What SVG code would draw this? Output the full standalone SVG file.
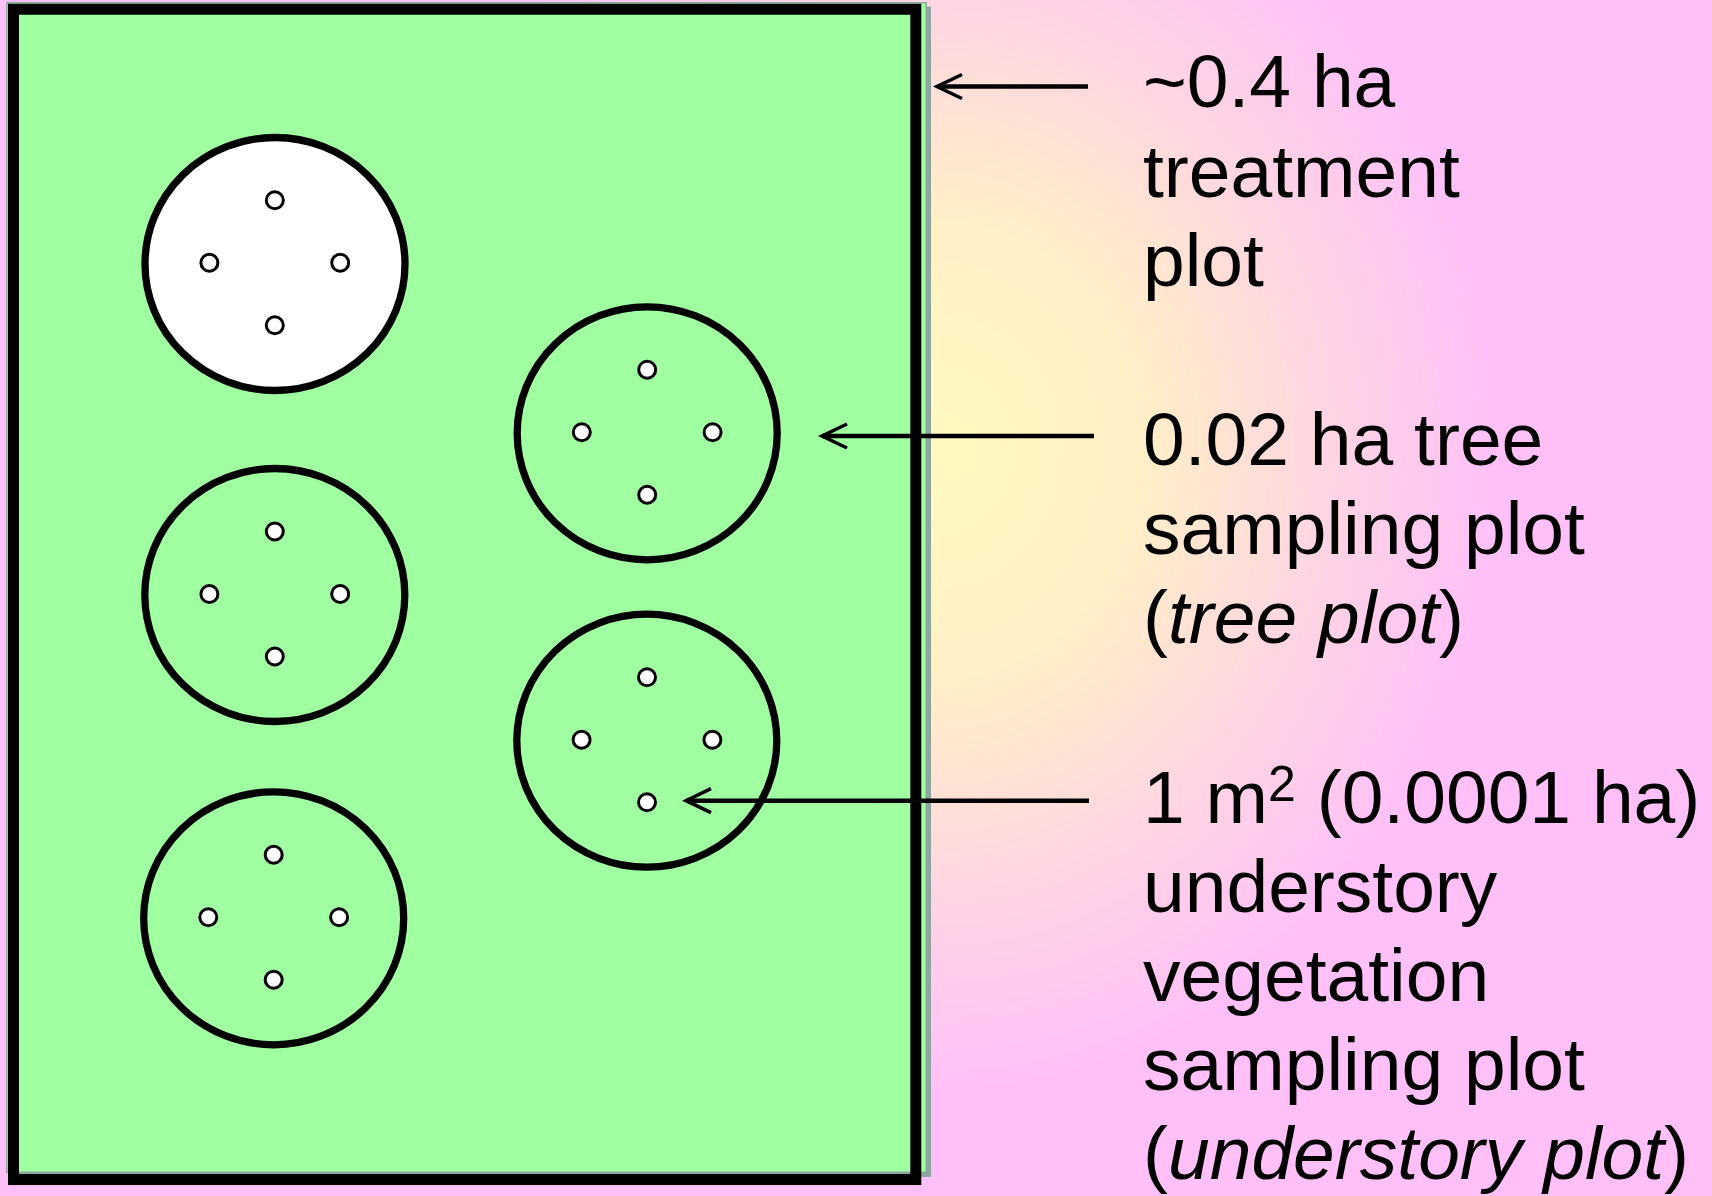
<svg xmlns="http://www.w3.org/2000/svg" width="1712" height="1196" viewBox="0 0 1712 1196">
  <style>
    .label { font-family: "Liberation Sans", Arial, sans-serif; font-size: 75px; fill: #000; }
    .it { font-style: italic; }
    .plot { stroke: #000; stroke-width: 7.3; }
    .quad { fill: #fff; stroke: #000; stroke-width: 3; }
    .conn { stroke: #000; stroke-width: 4.5; fill: none; marker-end: url(#arrow); }
  </style>
  <defs>
    <radialGradient id="bg" gradientUnits="userSpaceOnUse" cx="940" cy="450" r="560" gradientTransform="translate(940 450) scale(1 1.15) translate(-940 -450)">
      <stop offset="0" stop-color="#FFF9C0"/>
      <stop offset="0.35" stop-color="#FFF0C6"/>
      <stop offset="0.7" stop-color="#FFD4E4"/>
      <stop offset="1" stop-color="#FFC0F8"/>
    </radialGradient>
    <marker id="arrow" markerUnits="userSpaceOnUse" viewBox="-30 -15 32 30" refX="0" refY="0" markerWidth="32" markerHeight="30" orient="auto" overflow="visible">
      <path d="M -25 -12 L 0 0 L -25 12" fill="none" stroke="#000" stroke-width="3.5" stroke-linejoin="miter" stroke-miterlimit="10"/>
    </marker>
    <g id="quads">
      <circle class="quad" cx="0" cy="-62.5" r="8.5"/>
      <circle class="quad" cx="-65.4" cy="0" r="8.5"/>
      <circle class="quad" cx="65.4" cy="0" r="8.5"/>
      <circle class="quad" cx="0" cy="62.5" r="8.5"/>
    </g>
  </defs>

  <rect x="0" y="0" width="1712" height="1196" fill="url(#bg)"/>

  <g id="treatment-plot">
    <rect x="10.5" y="6.5" width="920.5" height="1170.5" fill="#8DA6A0"/>
    <rect x="6.75" y="2.75" width="919.5" height="1169.5" fill="#A0FFA0" stroke="#8DA6A0" stroke-width="1.5"/>
    <rect x="13.5" y="9.25" width="902.3" height="1170.3" fill="none" stroke="#000" stroke-width="11"/>
  </g>

  <g id="tree-plot-1">
    <ellipse class="plot" cx="275" cy="264" rx="130" ry="126.5" fill="#fff"/>
    <use href="#quads" x="274.8" y="262.8"/>
  </g>
  <g id="tree-plot-2">
    <ellipse class="plot" cx="647.2" cy="433.3" rx="130" ry="126.5" fill="none"/>
    <use href="#quads" x="647.2" y="432.2"/>
  </g>
  <g id="tree-plot-3">
    <ellipse class="plot" cx="274.8" cy="595" rx="130" ry="126.5" fill="none"/>
    <use href="#quads" x="274.8" y="594"/>
  </g>
  <g id="tree-plot-4">
    <ellipse class="plot" cx="273.7" cy="918.3" rx="130" ry="126.5" fill="none"/>
    <use href="#quads" x="273.7" y="917.2"/>
  </g>
  <g id="tree-plot-5">
    <ellipse class="plot" cx="646.8" cy="740.7" rx="130" ry="126.5" fill="none"/>
    <use href="#quads" x="647" y="739.7"/>
  </g>

  <g id="connectors">
    <line class="conn" x1="1088" y1="86.5" x2="937" y2="86.5"/>
    <line class="conn" x1="1094" y1="436" x2="822" y2="436"/>
    <line class="conn" x1="1089" y1="800.7" x2="686" y2="800.7"/>
  </g>

  <g id="label-treatment">
    <text class="label" x="1143" y="107.3">~0.4 ha</text>
    <text class="label" x="1143" y="196.7">treatment</text>
    <text class="label" x="1143" y="286">plot</text>
  </g>
  <g id="label-tree">
    <text class="label" x="1143" y="465">0.02 ha tree</text>
    <text class="label" x="1143" y="554">sampling plot</text>
    <text class="label" x="1143" y="643">(<tspan class="it">tree plot</tspan>)</text>
  </g>
  <g id="label-understory">
    <text class="label" x="1143" y="823.3">1 m<tspan font-size="50" dy="-22">2</tspan><tspan dy="22"> (0.0001 ha)</tspan></text>
    <text class="label" x="1143" y="912.3">understory</text>
    <text class="label" x="1143" y="1001.3">vegetation</text>
    <text class="label" x="1143" y="1090.3">sampling plot</text>
    <text class="label" x="1143" y="1179.3">(<tspan class="it">understory plot</tspan>)</text>
  </g>
</svg>
